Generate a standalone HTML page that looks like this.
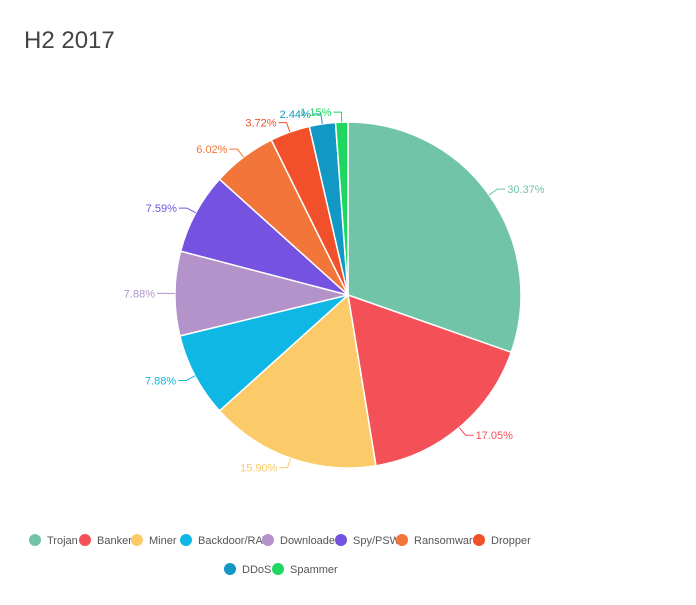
<!DOCTYPE html>
<html><head><meta charset="utf-8"><style>
body{margin:0;background:#fff;width:696px;height:600px;overflow:hidden;font-family:"Liberation Sans",sans-serif}
</style></head><body>
<svg id="chart" width="696" height="600">
<text x="24" y="48" font-size="24" fill="#444">H2 2017</text>
<g id="slices"></g><g id="labels"></g><g id="legend"></g>
</svg>
<script>
const categories=["Trojan","Banker","Miner","Backdoor/RAT","Downloader","Spy/PSW","Ransomware","Dropper","DDoS","Spammer"];
const values=[30.37,17.05,15.90,7.88,7.88,7.59,6.02,3.72,2.44,1.15];
const colors=["#71c4a7","#f45058","#fbcb6a","#0fb8e4","#b393c9","#7552e0","#f2763a","#f2502a","#1198c5","#1ed760"];
const NS="http://www.w3.org/2000/svg";
const cx=348,cy=295,R=173;
const total=values.reduce((a,b)=>a+b,0);
function pt(a,r){return [cx+r*Math.sin(a),cy-r*Math.cos(a)];}
const sg=document.getElementById('slices'),lg=document.getElementById('labels');
let a0=0;
values.forEach((v,i)=>{
  const a1=a0+v/total*2*Math.PI;
  const p0=pt(a0,R),p1=pt(a1,R);
  const p=document.createElementNS(NS,'path');
  p.setAttribute('d',`M${cx},${cy}L${p0[0]},${p0[1]}A${R},${R} 0 ${a1-a0>Math.PI?1:0} 1 ${p1[0]},${p1[1]}Z`);
  p.setAttribute('fill',colors[i]);p.setAttribute('stroke','#fff');p.setAttribute('stroke-width','1.5');
  
  
  sg.appendChild(p);
  const am=(a0+a1)/2;
  const e1=pt(am,R),e2=pt(am,R+10);
  const right=Math.sin(am)>=0;
  const x3=e2[0]+(right?8:-8);
  const l=document.createElementNS(NS,'polyline');
  l.setAttribute('points',`${e1[0]},${e1[1]} ${e2[0]},${e2[1]} ${x3},${e2[1]}`);
  l.setAttribute('fill','none');l.setAttribute('stroke',colors[i]);l.setAttribute('stroke-width','1');
  
  
  lg.appendChild(l);
  const t=document.createElementNS(NS,'text');
  t.setAttribute('x',x3+(right?2:-2));t.setAttribute('y',e2[1]+4);
  t.setAttribute('text-anchor',right?'start':'end');t.setAttribute('font-size','11');t.setAttribute('fill',colors[i]);
  t.textContent=values[i].toFixed(2)+'%';
  
  
  lg.appendChild(t);
  a0=a1;
});
const legX=[35,85,137,186,268,341,402,479,230,278];
const legY=[540,540,540,540,540,540,540,540,569,569];
const leg=document.getElementById('legend');
categories.forEach((c,i)=>{
  const g=document.createElementNS(NS,'g');
  
  
  const ci=document.createElementNS(NS,'circle');
  ci.setAttribute('cx',legX[i]);ci.setAttribute('cy',legY[i]);ci.setAttribute('r',6);ci.setAttribute('fill',colors[i]);
  const t=document.createElementNS(NS,'text');
  t.setAttribute('x',legX[i]+12);t.setAttribute('y',legY[i]+4);t.setAttribute('font-size','11');t.setAttribute('fill','#555');
  t.textContent=c;
  g.appendChild(ci);g.appendChild(t);leg.appendChild(g);
});
</script>
</body></html>
